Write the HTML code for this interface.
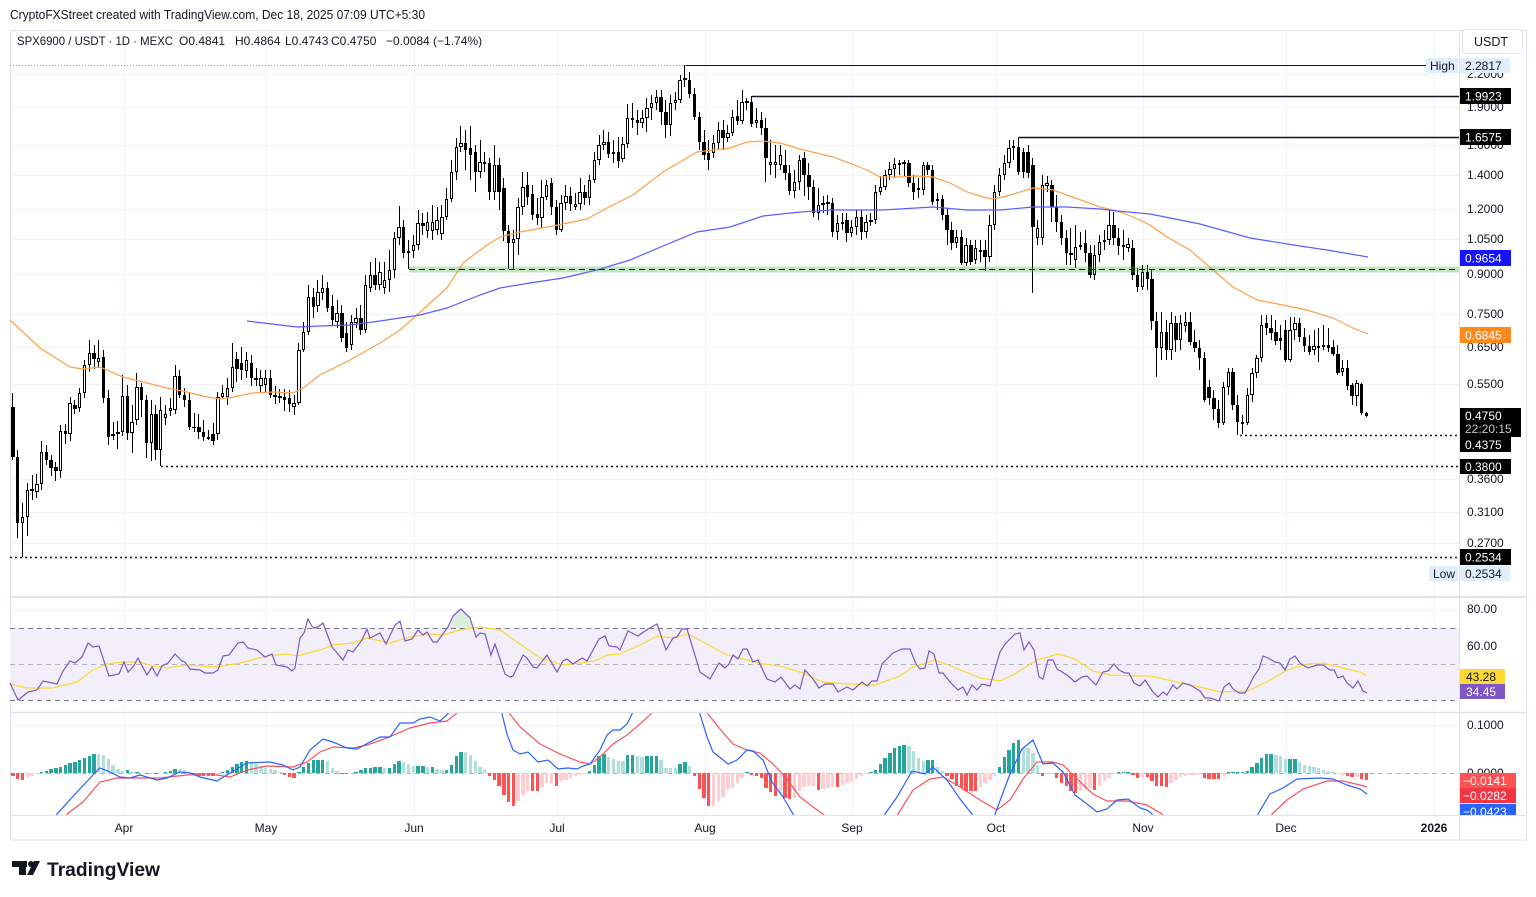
<!DOCTYPE html>
<html><head><meta charset="utf-8">
<style>
html,body{margin:0;padding:0;background:#fff}
body{width:1536px;height:897px;position:relative;overflow:hidden;font-family:"Liberation Sans",Arial,sans-serif}
svg{position:absolute;left:0;top:0}
#cd,#hg{position:absolute;left:10.615px;top:0;display:flex;height:10px}
#cd i,#hg i{position:relative;width:4.77px;flex:none;display:block;height:10px}
#cd i::before{content:"";position:absolute;left:1.885px;width:1px;top:calc(var(--h)*1px);height:calc((var(--l) - var(--h))*1px);background:#000}
#cd i::after{content:"";position:absolute;left:0.7px;width:3.4px;box-sizing:border-box;top:calc(var(--t)*1px);height:max(1px,calc((var(--b) - var(--t))*1px));background:#000}
#cd i.w::after{background:#fff;border:1px solid #000;height:max(2px,calc((var(--b) - var(--t))*1px))}
#hg i::after{content:"";position:absolute;left:0.7px;width:3.4px;top:calc((773 - max(var(--v),0))*1px);height:calc(max(var(--v),-1*var(--v))*1px)}
#hg i.g::after{background:#26a69a}
#hg i.G::after{background:#b2dfdb}
#hg i.r::after{background:#ff5252}
#hg i.R::after{background:#ffcdd2}
</style></head><body>

<svg width="1536" height="897" viewBox="0 0 1536 897">
<!-- frame -->
<rect x="10.5" y="30.5" width="1516" height="809.5" fill="#fff" stroke="#e0e3eb"/>
<!-- main grid -->
<g stroke="#f0f3fa" stroke-width="1">
<line x1="10" x2="1459" y1="74.5" y2="74.5"/><line x1="10" x2="1459" y1="107.5" y2="107.5"/><line x1="10" x2="1459" y1="145.5" y2="145.5"/><line x1="10" x2="1459" y1="175.5" y2="175.5"/><line x1="10" x2="1459" y1="209.5" y2="209.5"/><line x1="10" x2="1459" y1="239.5" y2="239.5"/><line x1="10" x2="1459" y1="274.5" y2="274.5"/><line x1="10" x2="1459" y1="314.5" y2="314.5"/><line x1="10" x2="1459" y1="347.5" y2="347.5"/><line x1="10" x2="1459" y1="384.5" y2="384.5"/><line x1="10" x2="1459" y1="479.5" y2="479.5"/><line x1="10" x2="1459" y1="512.5" y2="512.5"/><line x1="10" x2="1459" y1="543.5" y2="543.5"/>
<line x1="10" x2="1459" y1="610.5" y2="610.5"/><line x1="10" x2="1459" y1="646.5" y2="646.5"/><line x1="10" x2="1459" y1="682.5" y2="682.5"/>
<line x1="10" x2="1459" y1="725.5" y2="725.5"/>
</g>
<g stroke="#f0f3fa" stroke-width="1">
<line x1="124.5" x2="124.5" y1="31" y2="815"/><line x1="266.5" x2="266.5" y1="31" y2="815"/><line x1="414.5" x2="414.5" y1="31" y2="815"/><line x1="557.5" x2="557.5" y1="31" y2="815"/><line x1="705.5" x2="705.5" y1="31" y2="815"/><line x1="852.5" x2="852.5" y1="31" y2="815"/><line x1="996.5" x2="996.5" y1="31" y2="815"/><line x1="1143.5" x2="1143.5" y1="31" y2="815"/><line x1="1286.5" x2="1286.5" y1="31" y2="815"/><line x1="1434.5" x2="1434.5" y1="31" y2="815"/>
</g>
<!-- RSI background -->
<rect x="10" y="628" width="1449" height="72" fill="#f2effa"/>
<line x1="10" x2="1459" y1="628.5" y2="628.5" stroke="#787b86" stroke-dasharray="5 4"/>
<line x1="10" x2="1459" y1="664.5" y2="664.5" stroke="#b2b5be" stroke-dasharray="5 4"/>
<line x1="10" x2="1459" y1="700.5" y2="700.5" stroke="#787b86" stroke-dasharray="5 4"/>
<line x1="10" x2="1459" y1="773.5" y2="773.5" stroke="#b2b5be" stroke-dasharray="5 4"/>
</svg>

<div id="hg">
<i class="r" style="--v:-3"></i><i class="r" style="--v:-6"></i><i class="r" style="--v:-7"></i><i class="R" style="--v:-5"></i><i class="R" style="--v:-3"></i><i class="R" style="--v:-1"></i><i class="g" style="--v:1"></i><i class="g" style="--v:2"></i><i class="g" style="--v:4"></i><i class="g" style="--v:5"></i>
<i class="g" style="--v:6"></i><i class="g" style="--v:8"></i><i class="g" style="--v:10"></i><i class="g" style="--v:11"></i><i class="g" style="--v:13"></i><i class="g" style="--v:15"></i><i class="g" style="--v:17"></i><i class="g" style="--v:19"></i><i class="G" style="--v:19"></i><i class="G" style="--v:18"></i>
<i class="G" style="--v:14"></i><i class="G" style="--v:8"></i><i class="G" style="--v:4"></i><i class="G" style="--v:2"></i><i class="g" style="--v:3"></i><i class="G" style="--v:1"></i><i class="g" style="--v:1"></i><i class="G" style="--v:0"></i><i class="r" style="--v:-1"></i><i class="R" style="--v:-1"></i>
<i class="r" style="--v:-1"></i><i class="R" style="--v:-1"></i><i class="g" style="--v:1"></i><i class="g" style="--v:2"></i><i class="g" style="--v:4"></i><i class="G" style="--v:4"></i><i class="G" style="--v:3"></i><i class="G" style="--v:1"></i><i class="r" style="--v:-1"></i><i class="r" style="--v:-3"></i>
<i class="r" style="--v:-3"></i><i class="r" style="--v:-3"></i><i class="r" style="--v:-3"></i><i class="R" style="--v:-2"></i><i class="g" style="--v:1"></i><i class="g" style="--v:3"></i><i class="g" style="--v:6"></i><i class="g" style="--v:9"></i><i class="g" style="--v:11"></i><i class="g" style="--v:12"></i>
<i class="G" style="--v:11"></i><i class="G" style="--v:9"></i><i class="G" style="--v:7"></i><i class="G" style="--v:5"></i><i class="G" style="--v:4"></i><i class="G" style="--v:3"></i><i class="G" style="--v:1"></i><i class="r" style="--v:-2"></i><i class="r" style="--v:-4"></i><i class="r" style="--v:-5"></i>
<i class="g" style="--v:1"></i><i class="g" style="--v:6"></i><i class="g" style="--v:10"></i><i class="g" style="--v:13"></i><i class="g" style="--v:13"></i><i class="g" style="--v:13"></i><i class="G" style="--v:12"></i><i class="G" style="--v:5"></i><i class="G" style="--v:2"></i><i class="r" style="--v:-1"></i>
<i class="r" style="--v:-1"></i><i class="R" style="--v:-1"></i><i class="g" style="--v:1"></i><i class="g" style="--v:3"></i><i class="g" style="--v:5"></i><i class="g" style="--v:5"></i><i class="g" style="--v:6"></i><i class="g" style="--v:6"></i><i class="G" style="--v:5"></i><i class="g" style="--v:5"></i>
<i class="g" style="--v:9"></i><i class="g" style="--v:12"></i><i class="G" style="--v:11"></i><i class="G" style="--v:9"></i><i class="G" style="--v:7"></i><i class="g" style="--v:7"></i><i class="g" style="--v:7"></i><i class="G" style="--v:6"></i><i class="g" style="--v:6"></i><i class="G" style="--v:4"></i>
<i class="G" style="--v:3"></i><i class="g" style="--v:3"></i><i class="g" style="--v:8"></i><i class="g" style="--v:17"></i><i class="g" style="--v:21"></i><i class="G" style="--v:21"></i><i class="G" style="--v:18"></i><i class="G" style="--v:12"></i><i class="G" style="--v:6"></i><i class="G" style="--v:3"></i>
<i class="r" style="--v:-3"></i><i class="r" style="--v:-7"></i><i class="r" style="--v:-13"></i><i class="r" style="--v:-22"></i><i class="r" style="--v:-29"></i><i class="r" style="--v:-33"></i><i class="R" style="--v:-28"></i><i class="R" style="--v:-22"></i><i class="R" style="--v:-18"></i><i class="r" style="--v:-18"></i>
<i class="r" style="--v:-18"></i><i class="R" style="--v:-14"></i><i class="R" style="--v:-10"></i><i class="R" style="--v:-10"></i><i class="r" style="--v:-13"></i><i class="R" style="--v:-8"></i><i class="R" style="--v:-7"></i><i class="R" style="--v:-5"></i><i class="R" style="--v:-3"></i><i class="R" style="--v:-2"></i>
<i class="R" style="--v:-1"></i><i class="g" style="--v:2"></i><i class="g" style="--v:8"></i><i class="g" style="--v:17"></i><i class="g" style="--v:19"></i><i class="G" style="--v:16"></i><i class="G" style="--v:14"></i><i class="G" style="--v:12"></i><i class="G" style="--v:12"></i><i class="g" style="--v:18"></i>
<i class="g" style="--v:18"></i><i class="G" style="--v:17"></i><i class="G" style="--v:16"></i><i class="g" style="--v:17"></i><i class="g" style="--v:17"></i><i class="g" style="--v:17"></i><i class="G" style="--v:13"></i><i class="G" style="--v:5"></i><i class="G" style="--v:5"></i><i class="G" style="--v:5"></i>
<i class="g" style="--v:9"></i><i class="g" style="--v:11"></i><i class="G" style="--v:7"></i><i class="r" style="--v:-3"></i><i class="r" style="--v:-16"></i><i class="r" style="--v:-25"></i><i class="r" style="--v:-33"></i><i class="R" style="--v:-33"></i><i class="R" style="--v:-28"></i><i class="R" style="--v:-24"></i>
<i class="R" style="--v:-16"></i><i class="R" style="--v:-15"></i><i class="R" style="--v:-10"></i><i class="R" style="--v:-5"></i><i class="g" style="--v:1"></i><i class="r" style="--v:-2"></i><i class="r" style="--v:-3"></i><i class="r" style="--v:-5"></i><i class="r" style="--v:-15"></i><i class="r" style="--v:-19"></i>
<i class="r" style="--v:-23"></i><i class="R" style="--v:-21"></i><i class="r" style="--v:-25"></i><i class="r" style="--v:-26"></i><i class="R" style="--v:-25"></i><i class="R" style="--v:-18"></i><i class="R" style="--v:-14"></i><i class="R" style="--v:-13"></i><i class="R" style="--v:-13"></i><i class="r" style="--v:-17"></i>
<i class="R" style="--v:-16"></i><i class="R" style="--v:-15"></i><i class="R" style="--v:-14"></i><i class="r" style="--v:-14"></i><i class="R" style="--v:-12"></i><i class="R" style="--v:-10"></i><i class="R" style="--v:-8"></i><i class="R" style="--v:-6"></i><i class="R" style="--v:-3"></i><i class="R" style="--v:-1"></i>
<i class="g" style="--v:1"></i><i class="g" style="--v:3"></i><i class="g" style="--v:9"></i><i class="g" style="--v:15"></i><i class="g" style="--v:20"></i><i class="g" style="--v:25"></i><i class="g" style="--v:27"></i><i class="g" style="--v:28"></i><i class="G" style="--v:27"></i><i class="G" style="--v:22"></i>
<i class="G" style="--v:15"></i><i class="G" style="--v:12"></i><i class="g" style="--v:13"></i><i class="g" style="--v:13"></i><i class="G" style="--v:6"></i><i class="G" style="--v:2"></i><i class="r" style="--v:-3"></i><i class="r" style="--v:-6"></i><i class="r" style="--v:-13"></i><i class="r" style="--v:-15"></i>
<i class="r" style="--v:-18"></i><i class="r" style="--v:-18"></i><i class="r" style="--v:-18"></i><i class="R" style="--v:-14"></i><i class="R" style="--v:-10"></i><i class="R" style="--v:-7"></i><i class="R" style="--v:-3"></i><i class="g" style="--v:6"></i><i class="g" style="--v:16"></i><i class="g" style="--v:23"></i>
<i class="g" style="--v:30"></i><i class="g" style="--v:33"></i><i class="G" style="--v:25"></i><i class="G" style="--v:25"></i><i class="G" style="--v:20"></i><i class="G" style="--v:8"></i><i class="r" style="--v:-3"></i><i class="R" style="--v:-1"></i><i class="R" style="--v:-1"></i><i class="r" style="--v:-5"></i>
<i class="r" style="--v:-10"></i><i class="r" style="--v:-13"></i><i class="r" style="--v:-18"></i><i class="r" style="--v:-20"></i><i class="R" style="--v:-18"></i><i class="R" style="--v:-17"></i><i class="R" style="--v:-15"></i><i class="r" style="--v:-17"></i><i class="R" style="--v:-12"></i><i class="R" style="--v:-8"></i>
<i class="R" style="--v:-5"></i><i class="R" style="--v:-1"></i><i class="g" style="--v:1"></i><i class="g" style="--v:1"></i><i class="g" style="--v:1"></i><i class="r" style="--v:-2"></i><i class="r" style="--v:-5"></i><i class="R" style="--v:-4"></i><i class="r" style="--v:-4"></i><i class="r" style="--v:-8"></i>
<i class="r" style="--v:-13"></i><i class="r" style="--v:-13"></i><i class="r" style="--v:-14"></i><i class="R" style="--v:-10"></i><i class="R" style="--v:-7"></i><i class="R" style="--v:-4"></i><i class="R" style="--v:-3"></i><i class="R" style="--v:-2"></i><i class="R" style="--v:-2"></i><i class="R" style="--v:-2"></i>
<i class="r" style="--v:-5"></i><i class="r" style="--v:-6"></i><i class="r" style="--v:-6"></i><i class="r" style="--v:-6"></i><i class="R" style="--v:-3"></i><i class="g" style="--v:1"></i><i class="g" style="--v:1"></i><i class="g" style="--v:1"></i><i class="g" style="--v:1"></i><i class="g" style="--v:2"></i>
<i class="g" style="--v:6"></i><i class="g" style="--v:10"></i><i class="g" style="--v:15"></i><i class="g" style="--v:19"></i><i class="g" style="--v:19"></i><i class="G" style="--v:18"></i><i class="G" style="--v:17"></i><i class="G" style="--v:14"></i><i class="g" style="--v:14"></i><i class="g" style="--v:14"></i>
<i class="G" style="--v:11"></i><i class="G" style="--v:8"></i><i class="G" style="--v:7"></i><i class="G" style="--v:6"></i><i class="G" style="--v:5"></i><i class="G" style="--v:3"></i><i class="G" style="--v:2"></i><i class="G" style="--v:1"></i><i class="R" style="--v:-1"></i><i class="R" style="--v:-2"></i>
<i class="r" style="--v:-3"></i><i class="r" style="--v:-4"></i><i class="R" style="--v:-4"></i><i class="r" style="--v:-6"></i><i class="r" style="--v:-7"></i>
</div>

<div id="cd">
<i class="k" style="--h:393;--l:460;--t:407;--b:457"></i><i class="k" style="--h:450;--l:538;--t:457;--b:523"></i><i class="w" style="--h:503;--l:557;--t:517;--b:523"></i><i class="w" style="--h:483;--l:536;--t:490;--b:517"></i><i class="w" style="--h:475;--l:500;--t:489;--b:491"></i><i class="w" style="--h:474;--l:498;--t:484;--b:492"></i><i class="w" style="--h:441;--l:490;--t:452;--b:484"></i><i class="k" style="--h:445;--l:465;--t:452;--b:460"></i><i class="k" style="--h:455;--l:476;--t:460;--b:468"></i><i class="k" style="--h:462;--l:481;--t:467;--b:471"></i>
<i class="w" style="--h:425;--l:478;--t:431;--b:471"></i><i class="k" style="--h:424;--l:444;--t:431;--b:434"></i><i class="w" style="--h:397;--l:441;--t:403;--b:434"></i><i class="k" style="--h:400;--l:414;--t:405;--b:409"></i><i class="w" style="--h:388;--l:412;--t:393;--b:408"></i><i class="w" style="--h:360;--l:398;--t:365;--b:393"></i><i class="w" style="--h:340;--l:372;--t:353;--b:365"></i><i class="k" style="--h:345;--l:369;--t:353;--b:359"></i><i class="w" style="--h:340;--l:368;--t:358;--b:362"></i><i class="k" style="--h:350;--l:403;--t:357;--b:398"></i>
<i class="k" style="--h:390;--l:445;--t:398;--b:437"></i><i class="w" style="--h:422;--l:440;--t:434;--b:436"></i><i class="w" style="--h:421;--l:449;--t:432;--b:434"></i><i class="w" style="--h:375;--l:436;--t:396;--b:432"></i><i class="k" style="--h:385;--l:440;--t:396;--b:433"></i><i class="w" style="--h:405;--l:453;--t:422;--b:433"></i><i class="w" style="--h:373;--l:425;--t:387;--b:420"></i><i class="k" style="--h:383;--l:417;--t:387;--b:400"></i><i class="k" style="--h:395;--l:458;--t:400;--b:443"></i><i class="w" style="--h:400;--l:461;--t:414;--b:443"></i>
<i class="k" style="--h:405;--l:460;--t:414;--b:450"></i><i class="w" style="--h:397;--l:466;--t:410;--b:450"></i><i class="w" style="--h:405;--l:425;--t:414;--b:418"></i><i class="w" style="--h:398;--l:416;--t:408;--b:411"></i><i class="w" style="--h:365;--l:414;--t:376;--b:410"></i><i class="k" style="--h:370;--l:398;--t:376;--b:395"></i><i class="k" style="--h:388;--l:407;--t:395;--b:400"></i><i class="k" style="--h:393;--l:430;--t:400;--b:427"></i><i class="k" style="--h:413;--l:432;--t:427;--b:428"></i><i class="k" style="--h:414;--l:439;--t:427;--b:432"></i>
<i class="k" style="--h:420;--l:441;--t:432;--b:437"></i><i class="w" style="--h:430;--l:440;--t:437;--b:438"></i><i class="k" style="--h:423;--l:445;--t:434;--b:441"></i><i class="w" style="--h:392;--l:440;--t:397;--b:434"></i><i class="w" style="--h:385;--l:399;--t:393;--b:397"></i><i class="w" style="--h:378;--l:405;--t:388;--b:397"></i><i class="w" style="--h:343;--l:392;--t:367;--b:388"></i><i class="k" style="--h:352;--l:382;--t:359;--b:369"></i><i class="k" style="--h:347;--l:380;--t:363;--b:370"></i><i class="w" style="--h:352;--l:378;--t:360;--b:371"></i>
<i class="k" style="--h:355;--l:386;--t:363;--b:378"></i><i class="k" style="--h:368;--l:386;--t:378;--b:380"></i><i class="w" style="--h:370;--l:392;--t:378;--b:386"></i><i class="w" style="--h:370;--l:392;--t:378;--b:385"></i><i class="k" style="--h:370;--l:398;--t:378;--b:395"></i><i class="k" style="--h:386;--l:404;--t:395;--b:397"></i><i class="k" style="--h:389;--l:403;--t:396;--b:398"></i><i class="k" style="--h:389;--l:411;--t:397;--b:400"></i><i class="k" style="--h:390;--l:412;--t:398;--b:404"></i><i class="w" style="--h:395;--l:415;--t:403;--b:407"></i>
<i class="w" style="--h:343;--l:405;--t:350;--b:403"></i><i class="w" style="--h:322;--l:352;--t:332;--b:350"></i><i class="w" style="--h:285;--l:335;--t:297;--b:332"></i><i class="k" style="--h:288;--l:318;--t:297;--b:307"></i><i class="w" style="--h:280;--l:312;--t:292;--b:306"></i><i class="w" style="--h:275;--l:300;--t:288;--b:293"></i><i class="k" style="--h:282;--l:312;--t:288;--b:308"></i><i class="k" style="--h:295;--l:325;--t:306;--b:320"></i><i class="w" style="--h:300;--l:328;--t:313;--b:322"></i><i class="k" style="--h:305;--l:342;--t:313;--b:338"></i>
<i class="k" style="--h:322;--l:352;--t:333;--b:348"></i><i class="w" style="--h:315;--l:350;--t:322;--b:345"></i><i class="w" style="--h:308;--l:328;--t:318;--b:323"></i><i class="k" style="--h:305;--l:335;--t:318;--b:330"></i><i class="w" style="--h:275;--l:333;--t:285;--b:330"></i><i class="w" style="--h:262;--l:292;--t:275;--b:288"></i><i class="k" style="--h:258;--l:290;--t:275;--b:285"></i><i class="w" style="--h:262;--l:290;--t:272;--b:285"></i><i class="w" style="--h:262;--l:294;--t:280;--b:288"></i><i class="w" style="--h:250;--l:292;--t:270;--b:280"></i>
<i class="w" style="--h:232;--l:278;--t:238;--b:270"></i><i class="w" style="--h:206;--l:245;--t:227;--b:238"></i><i class="k" style="--h:220;--l:258;--t:227;--b:253"></i><i class="w" style="--h:240;--l:269;--t:251;--b:253"></i><i class="w" style="--h:235;--l:258;--t:245;--b:251"></i><i class="w" style="--h:210;--l:250;--t:223;--b:245"></i><i class="k" style="--h:213;--l:235;--t:223;--b:226"></i><i class="w" style="--h:212;--l:238;--t:222;--b:231"></i><i class="w" style="--h:205;--l:240;--t:222;--b:231"></i><i class="w" style="--h:207;--l:235;--t:220;--b:230"></i>
<i class="w" style="--h:205;--l:240;--t:217;--b:234"></i><i class="w" style="--h:188;--l:220;--t:199;--b:217"></i><i class="w" style="--h:160;--l:202;--t:172;--b:199"></i><i class="w" style="--h:138;--l:180;--t:147;--b:172"></i><i class="w" style="--h:126;--l:152;--t:143;--b:147"></i><i class="k" style="--h:130;--l:170;--t:143;--b:150"></i><i class="k" style="--h:126;--l:180;--t:148;--b:155"></i><i class="k" style="--h:145;--l:192;--t:152;--b:172"></i><i class="w" style="--h:140;--l:178;--t:162;--b:172"></i><i class="k" style="--h:152;--l:172;--t:162;--b:164"></i>
<i class="k" style="--h:158;--l:200;--t:163;--b:192"></i><i class="w" style="--h:145;--l:200;--t:165;--b:192"></i><i class="k" style="--h:158;--l:210;--t:165;--b:192"></i><i class="k" style="--h:178;--l:241;--t:188;--b:231"></i><i class="k" style="--h:225;--l:269;--t:231;--b:243"></i><i class="w" style="--h:230;--l:269;--t:239;--b:243"></i><i class="w" style="--h:198;--l:255;--t:207;--b:239"></i><i class="w" style="--h:172;--l:215;--t:187;--b:207"></i><i class="k" style="--h:172;--l:205;--t:185;--b:197"></i><i class="k" style="--h:185;--l:220;--t:194;--b:215"></i>
<i class="k" style="--h:198;--l:225;--t:214;--b:218"></i><i class="w" style="--h:180;--l:228;--t:197;--b:218"></i><i class="w" style="--h:180;--l:200;--t:185;--b:197"></i><i class="k" style="--h:178;--l:215;--t:183;--b:207"></i><i class="k" style="--h:200;--l:235;--t:207;--b:230"></i><i class="w" style="--h:195;--l:232;--t:203;--b:230"></i><i class="w" style="--h:185;--l:210;--t:196;--b:203"></i><i class="k" style="--h:187;--l:211;--t:196;--b:204"></i><i class="w" style="--h:193;--l:210;--t:204;--b:207"></i><i class="w" style="--h:178;--l:210;--t:192;--b:204"></i>
<i class="k" style="--h:185;--l:205;--t:192;--b:198"></i><i class="w" style="--h:175;--l:205;--t:180;--b:198"></i><i class="w" style="--h:152;--l:183;--t:160;--b:180"></i><i class="w" style="--h:135;--l:165;--t:145;--b:160"></i><i class="w" style="--h:130;--l:150;--t:142;--b:145"></i><i class="k" style="--h:132;--l:158;--t:142;--b:154"></i><i class="w" style="--h:140;--l:163;--t:152;--b:154"></i><i class="k" style="--h:137;--l:168;--t:152;--b:161"></i><i class="w" style="--h:137;--l:162;--t:144;--b:159"></i><i class="w" style="--h:104;--l:148;--t:118;--b:144"></i>
<i class="k" style="--h:103;--l:128;--t:118;--b:120"></i><i class="k" style="--h:110;--l:135;--t:120;--b:123"></i><i class="w" style="--h:110;--l:128;--t:118;--b:123"></i><i class="w" style="--h:98;--l:132;--t:108;--b:118"></i><i class="w" style="--h:95;--l:120;--t:103;--b:108"></i><i class="w" style="--h:90;--l:110;--t:97;--b:103"></i><i class="k" style="--h:90;--l:125;--t:97;--b:112"></i><i class="k" style="--h:100;--l:138;--t:112;--b:125"></i><i class="w" style="--h:95;--l:136;--t:103;--b:125"></i><i class="w" style="--h:92;--l:110;--t:100;--b:103"></i>
<i class="w" style="--h:75;--l:103;--t:80;--b:100"></i><i class="w" style="--h:65;--l:87;--t:78;--b:80"></i><i class="k" style="--h:72;--l:98;--t:80;--b:94"></i><i class="k" style="--h:88;--l:120;--t:94;--b:117"></i><i class="k" style="--h:112;--l:150;--t:117;--b:142"></i><i class="k" style="--h:130;--l:160;--t:142;--b:155"></i><i class="k" style="--h:140;--l:170;--t:153;--b:160"></i><i class="w" style="--h:135;--l:158;--t:143;--b:153"></i><i class="w" style="--h:122;--l:150;--t:130;--b:143"></i><i class="k" style="--h:120;--l:150;--t:130;--b:138"></i>
<i class="w" style="--h:125;--l:142;--t:133;--b:138"></i><i class="w" style="--h:110;--l:136;--t:117;--b:133"></i><i class="k" style="--h:100;--l:125;--t:116;--b:121"></i><i class="w" style="--h:90;--l:124;--t:102;--b:121"></i><i class="w" style="--h:98;--l:110;--t:101;--b:103"></i><i class="k" style="--h:96;--l:127;--t:102;--b:124"></i><i class="w" style="--h:108;--l:128;--t:120;--b:123"></i><i class="k" style="--h:112;--l:135;--t:120;--b:128"></i><i class="k" style="--h:118;--l:182;--t:128;--b:158"></i><i class="w" style="--h:140;--l:175;--t:162;--b:165"></i>
<i class="w" style="--h:145;--l:178;--t:162;--b:165"></i><i class="w" style="--h:145;--l:170;--t:155;--b:165"></i><i class="k" style="--h:150;--l:180;--t:165;--b:173"></i><i class="k" style="--h:165;--l:195;--t:173;--b:191"></i><i class="w" style="--h:170;--l:198;--t:182;--b:191"></i><i class="w" style="--h:155;--l:190;--t:160;--b:182"></i><i class="k" style="--h:152;--l:196;--t:158;--b:175"></i><i class="k" style="--h:163;--l:200;--t:175;--b:187"></i><i class="k" style="--h:180;--l:217;--t:187;--b:213"></i><i class="w" style="--h:188;--l:220;--t:205;--b:213"></i>
<i class="w" style="--h:196;--l:213;--t:203;--b:205"></i><i class="w" style="--h:195;--l:215;--t:202;--b:204"></i><i class="k" style="--h:198;--l:237;--t:203;--b:232"></i><i class="w" style="--h:215;--l:240;--t:223;--b:232"></i><i class="w" style="--h:213;--l:230;--t:222;--b:224"></i><i class="k" style="--h:213;--l:242;--t:220;--b:233"></i><i class="w" style="--h:220;--l:237;--t:227;--b:233"></i><i class="w" style="--h:210;--l:235;--t:217;--b:227"></i><i class="k" style="--h:210;--l:240;--t:217;--b:232"></i><i class="w" style="--h:215;--l:238;--t:222;--b:232"></i>
<i class="w" style="--h:213;--l:226;--t:220;--b:222"></i><i class="w" style="--h:185;--l:224;--t:192;--b:220"></i><i class="w" style="--h:176;--l:195;--t:187;--b:192"></i><i class="w" style="--h:170;--l:190;--t:175;--b:187"></i><i class="w" style="--h:162;--l:180;--t:169;--b:175"></i><i class="w" style="--h:158;--l:178;--t:164;--b:169"></i><i class="w" style="--h:160;--l:175;--t:163;--b:165"></i><i class="w" style="--h:160;--l:176;--t:162;--b:164"></i><i class="k" style="--h:160;--l:187;--t:163;--b:183"></i><i class="k" style="--h:175;--l:200;--t:183;--b:192"></i>
<i class="w" style="--h:178;--l:198;--t:188;--b:190"></i><i class="w" style="--h:162;--l:195;--t:165;--b:190"></i><i class="k" style="--h:162;--l:175;--t:165;--b:170"></i><i class="k" style="--h:165;--l:205;--t:170;--b:202"></i><i class="w" style="--h:193;--l:210;--t:199;--b:201"></i><i class="k" style="--h:195;--l:220;--t:199;--b:215"></i><i class="k" style="--h:208;--l:245;--t:215;--b:230"></i><i class="k" style="--h:222;--l:250;--t:230;--b:243"></i><i class="w" style="--h:230;--l:248;--t:237;--b:243"></i><i class="k" style="--h:230;--l:265;--t:237;--b:263"></i>
<i class="w" style="--h:238;--l:266;--t:245;--b:263"></i><i class="k" style="--h:240;--l:265;--t:245;--b:262"></i><i class="w" style="--h:240;--l:264;--t:248;--b:260"></i><i class="w" style="--h:240;--l:262;--t:250;--b:252"></i><i class="k" style="--h:240;--l:271;--t:250;--b:257"></i><i class="w" style="--h:215;--l:262;--t:225;--b:257"></i><i class="w" style="--h:185;--l:230;--t:192;--b:225"></i><i class="w" style="--h:168;--l:196;--t:175;--b:192"></i><i class="w" style="--h:155;--l:180;--t:163;--b:175"></i><i class="w" style="--h:140;--l:168;--t:148;--b:163"></i>
<i class="w" style="--h:140;--l:160;--t:146;--b:148"></i><i class="k" style="--h:137;--l:175;--t:147;--b:172"></i><i class="k" style="--h:148;--l:178;--t:152;--b:172"></i><i class="k" style="--h:145;--l:178;--t:152;--b:173"></i><i class="k" style="--h:158;--l:293;--t:165;--b:227"></i><i class="w" style="--h:220;--l:245;--t:228;--b:238"></i><i class="w" style="--h:175;--l:245;--t:185;--b:238"></i><i class="w" style="--h:176;--l:192;--t:183;--b:186"></i><i class="k" style="--h:180;--l:222;--t:185;--b:207"></i><i class="k" style="--h:195;--l:232;--t:207;--b:222"></i>
<i class="k" style="--h:215;--l:245;--t:222;--b:238"></i><i class="k" style="--h:230;--l:265;--t:238;--b:253"></i><i class="w" style="--h:228;--l:265;--t:253;--b:255"></i><i class="w" style="--h:225;--l:268;--t:247;--b:260"></i><i class="w" style="--h:232;--l:250;--t:245;--b:247"></i><i class="k" style="--h:230;--l:262;--t:243;--b:253"></i><i class="k" style="--h:245;--l:278;--t:253;--b:275"></i><i class="w" style="--h:245;--l:280;--t:255;--b:275"></i><i class="w" style="--h:235;--l:262;--t:242;--b:255"></i><i class="w" style="--h:230;--l:250;--t:240;--b:242"></i>
<i class="w" style="--h:210;--l:245;--t:225;--b:240"></i><i class="k" style="--h:212;--l:245;--t:225;--b:238"></i><i class="k" style="--h:228;--l:255;--t:238;--b:246"></i><i class="w" style="--h:230;--l:260;--t:245;--b:247"></i><i class="w" style="--h:238;--l:252;--t:244;--b:248"></i><i class="k" style="--h:240;--l:280;--t:248;--b:275"></i><i class="k" style="--h:268;--l:292;--t:275;--b:287"></i><i class="w" style="--h:265;--l:290;--t:272;--b:287"></i><i class="k" style="--h:265;--l:290;--t:272;--b:279"></i><i class="k" style="--h:270;--l:330;--t:279;--b:321"></i>
<i class="k" style="--h:312;--l:377;--t:321;--b:348"></i><i class="w" style="--h:312;--l:360;--t:332;--b:348"></i><i class="k" style="--h:320;--l:360;--t:332;--b:350"></i><i class="w" style="--h:312;--l:360;--t:323;--b:350"></i><i class="k" style="--h:316;--l:352;--t:323;--b:340"></i><i class="w" style="--h:315;--l:350;--t:323;--b:340"></i><i class="w" style="--h:312;--l:332;--t:322;--b:326"></i><i class="k" style="--h:312;--l:345;--t:322;--b:342"></i><i class="k" style="--h:330;--l:352;--t:342;--b:348"></i><i class="k" style="--h:340;--l:370;--t:348;--b:358"></i>
<i class="k" style="--h:352;--l:402;--t:358;--b:400"></i><i class="k" style="--h:380;--l:405;--t:387;--b:398"></i><i class="k" style="--h:390;--l:420;--t:398;--b:409"></i><i class="k" style="--h:400;--l:428;--t:409;--b:423"></i><i class="w" style="--h:382;--l:425;--t:387;--b:423"></i><i class="w" style="--h:368;--l:395;--t:372;--b:387"></i><i class="k" style="--h:368;--l:410;--t:372;--b:405"></i><i class="k" style="--h:395;--l:435;--t:405;--b:422"></i><i class="w" style="--h:415;--l:434;--t:422;--b:424"></i><i class="w" style="--h:388;--l:425;--t:395;--b:423"></i>
<i class="w" style="--h:368;--l:402;--t:373;--b:395"></i><i class="w" style="--h:355;--l:378;--t:358;--b:373"></i><i class="w" style="--h:315;--l:362;--t:325;--b:358"></i><i class="k" style="--h:315;--l:335;--t:323;--b:328"></i><i class="k" style="--h:315;--l:340;--t:328;--b:333"></i><i class="k" style="--h:320;--l:345;--t:332;--b:341"></i><i class="k" style="--h:325;--l:350;--t:338;--b:341"></i><i class="k" style="--h:320;--l:362;--t:330;--b:360"></i><i class="w" style="--h:317;--l:362;--t:330;--b:360"></i><i class="w" style="--h:317;--l:340;--t:323;--b:330"></i>
<i class="k" style="--h:318;--l:342;--t:323;--b:337"></i><i class="k" style="--h:328;--l:352;--t:337;--b:346"></i><i class="k" style="--h:335;--l:355;--t:346;--b:352"></i><i class="w" style="--h:330;--l:355;--t:346;--b:350"></i><i class="w" style="--h:328;--l:362;--t:346;--b:348"></i><i class="w" style="--h:325;--l:350;--t:345;--b:347"></i><i class="k" style="--h:328;--l:352;--t:345;--b:348"></i><i class="k" style="--h:340;--l:356;--t:347;--b:354"></i><i class="k" style="--h:345;--l:375;--t:354;--b:373"></i><i class="w" style="--h:360;--l:376;--t:368;--b:372"></i>
<i class="k" style="--h:360;--l:390;--t:368;--b:386"></i><i class="k" style="--h:383;--l:405;--t:385;--b:396"></i><i class="w" style="--h:380;--l:406;--t:383;--b:396"></i><i class="k" style="--h:383;--l:415;--t:384;--b:413"></i><i class="k" style="--h:412;--l:417;--t:413;--b:416"></i>
</div>

<svg width="1536" height="897" viewBox="0 0 1536 897" font-family="Liberation Sans, Arial, sans-serif">
<defs>
<clipPath id="mc"><rect x="10" y="713" width="1449" height="102"/></clipPath>
<clipPath id="ax"><rect x="1460" y="713" width="66" height="102"/></clipPath>
</defs>
<!-- moving averages -->
<polyline fill="none" stroke="#ffa04a" stroke-width="1.2" points="10,320 40,348 70,367 83,369 100,367 123,377 143,382 167,388 187,392 207,397 220,399 233,397 253,393 273,392 293,393 303,388 320,375 350,360 380,343 400,330 417,315 447,288 463,263 487,245 500,237 520,232 553,226 587,219 607,208 633,195 663,172 680,162 697,152 713,150 730,148 747,142 763,141 780,143 800,149 833,157 867,170 880,177 900,177 917,176 933,177 950,183 967,192 983,197 993,199 1007,196 1033,188 1053,190 1067,195 1100,207 1117,211 1133,217 1150,225 1167,237 1190,250 1213,270 1233,287 1257,300 1283,305 1307,310 1333,318 1353,328 1368,334"/>
<polyline fill="none" stroke="#5c5cff" stroke-width="1.2" points="247,321 297,327 320,326 350,325 380,321 400,318 420,315 447,308 480,295 500,288 530,283 563,278 597,270 630,260 663,246 697,232 730,227 763,216 800,212 833,210 883,210 933,207 967,210 1000,210 1033,207 1067,207 1100,209 1117,211 1150,214 1200,224 1250,238 1300,246 1327,250 1368,257"/>
<!-- horizontal levels -->
<line x1="10" x2="686" y1="65.5" y2="65.5" stroke="#9598a1" stroke-dasharray="1 2"/>
<line x1="686" x2="1426" y1="65.5" y2="65.5" stroke="#131722" stroke-width="1"/>
<line x1="752" x2="1459" y1="96.5" y2="96.5" stroke="#131722" stroke-width="1.5"/>
<line x1="1019" x2="1459" y1="137.5" y2="137.5" stroke="#131722" stroke-width="1.5"/>
<rect x="409" y="266.5" width="1050" height="6" fill="#4caf50" fill-opacity="0.35"/>
<line x1="409" x2="1459" y1="269.5" y2="269.5" stroke="#131722" stroke-dasharray="6 4"/>
<line x1="1240" x2="1459" y1="435.5" y2="435.5" stroke="#131722" stroke-width="1.5" stroke-dasharray="2 3"/>
<line x1="161" x2="1459" y1="466.5" y2="466.5" stroke="#131722" stroke-width="1.5" stroke-dasharray="2 3"/>
<line x1="10" x2="1459" y1="557.5" y2="557.5" stroke="#131722" stroke-width="1.5" stroke-dasharray="2 3"/>
<!-- RSI -->
<polygon points="449,628 453,616 461,609 470,618 473,628" fill="#4caf50" fill-opacity="0.2"/>
<polyline fill="none" stroke="#fdd835" stroke-width="1.2" points="10,684 27,688 53,688 77,682 93,670 107,664 123,662 140,662 153,666 167,668 187,665 217,667 240,663 267,656 287,654 297,656 320,650 333,645 353,643 367,638 390,643 410,637 430,634 443,635 460,630 480,627 500,630 520,644 540,658 563,665 580,663 595,661 607,655 620,654 640,645 657,636 673,638 688,634 707,644 727,655 743,659 763,664 780,666 803,673 823,682 847,684 875,685 900,676 913,667 935,660 953,667 980,678 1000,681 1013,675 1037,660 1058,654 1075,659 1093,671 1110,675 1133,676 1150,676 1177,682 1200,687 1220,692 1247,691 1267,682 1287,670 1307,664 1323,663 1343,668 1360,672 1367,676"/>
<polyline fill="none" stroke="#7e57c2" stroke-width="1.2" points="10,683 18,700 28,692 37,690 43,681 57,684 63,671 70,661 75,663 82,657 88,643 93,647 99,646 109,676 119,674 124,662 128,672 133,667 138,658 147,675 152,667 157,676 162,666 168,663 175,654 182,661 185,662 190,669 200,670 205,673 213,673 218,670 223,656 229,655 238,643 243,642 248,648 257,650 265,657 272,654 276,665 287,667 292,671 295,668 300,638 304,633 308,619 313,628 318,627 323,623 332,647 343,660 348,650 353,652 362,640 367,629 370,638 380,633 386,644 395,625 400,621 405,641 412,639 418,630 423,635 427,632 433,642 437,642 448,627 453,616 461,609 470,618 476,637 480,633 485,634 491,655 495,644 505,674 510,677 513,676 523,655 527,658 533,667 537,668 547,655 557,672 563,661 567,659 573,664 582,658 587,661 599,639 605,636 609,646 617,647 620,650 628,631 638,636 648,629 657,624 666,650 673,638 677,637 682,629 687,629 700,672 710,679 719,663 725,668 729,664 733,655 738,659 743,649 747,649 753,662 758,660 767,679 775,682 781,677 790,689 795,685 800,689 805,670 813,679 819,688 825,684 833,684 838,692 847,687 853,690 862,682 867,686 872,681 877,681 882,664 887,659 893,653 902,649 910,649 916,664 920,669 925,668 929,651 934,654 939,673 943,673 950,682 958,690 963,687 967,695 972,685 977,690 982,684 990,686 995,669 1000,652 1005,644 1010,639 1015,634 1020,633 1024,650 1029,642 1034,650 1039,677 1043,679 1048,660 1053,660 1057,669 1067,675 1075,682 1082,677 1087,676 1096,685 1103,672 1108,671 1114,664 1119,670 1125,673 1129,673 1134,683 1140,686 1145,680 1153,692 1158,697 1163,692 1167,695 1173,685 1177,689 1183,683 1190,685 1200,691 1205,698 1210,698 1219,701 1224,687 1229,683 1233,689 1239,693 1245,693 1250,684 1254,676 1259,669 1263,656 1268,658 1275,662 1280,663 1285,670 1290,659 1295,656 1300,663 1308,668 1317,665 1323,665 1330,670 1334,670 1338,678 1343,676 1347,683 1353,688 1358,681 1363,691 1367,693"/>
<!-- MACD lines -->
<g clip-path="url(#mc)" fill="none" stroke-width="1.2">
<polyline stroke="#f7525f" points="60,850 67,814 83,802 100,782 117,778 133,778 160,778 187,775 210,774 230,777 247,770 267,766 293,767 307,762 320,752 333,747 353,748 367,745 387,738 410,728 430,723 447,721 457,713 470,680 500,680 510,714 520,727 540,744 560,754 580,762 590,764 600,757 613,744 627,735 640,724 653,712 665,680 700,680 708,714 720,729 733,744 747,750 760,753 773,764 787,779 800,797 813,807 823,814 840,850 890,850 898,814 913,790 930,779 943,777 960,787 980,800 997,810 1010,800 1023,779 1037,762 1053,762 1063,765 1077,779 1093,794 1107,801 1127,801 1147,805 1162,814 1175,850 1265,850 1272,814 1287,800 1303,789 1327,781 1343,781 1360,785 1367,787"/>
<polyline stroke="#2962ff" points="50,830 57,814 77,792 93,775 100,768 110,772 120,777 130,778 140,775 157,780 167,778 180,772 190,773 200,777 217,781 230,773 247,763 270,762 283,765 293,770 300,767 310,750 323,739 333,742 347,748 357,749 370,742 380,737 390,737 400,723 413,723 420,719 430,717 440,721 450,712 465,680 490,680 502,714 507,734 513,750 520,754 528,752 538,762 548,760 558,769 568,768 577,769 583,766 590,764 600,750 607,735 613,730 620,730 627,724 633,712 645,680 690,680 700,714 707,737 713,752 722,759 728,764 737,760 747,750 753,751 763,760 772,782 783,797 793,814 805,850 875,850 885,814 897,797 912,771 925,774 933,767 947,780 960,799 972,814 982,850 988,850 995,814 1010,774 1022,749 1033,740 1043,764 1053,763 1063,772 1075,795 1087,804 1097,812 1107,809 1117,800 1128,799 1140,808 1147,810 1152,814 1160,850 1250,850 1258,814 1270,794 1283,788 1297,779 1320,778 1333,779 1347,785 1360,789 1367,794"/>
</g>
<!-- separators -->
<line x1="10" x2="1527" y1="597" y2="597" stroke="#e0e3eb" stroke-width="2"/>
<line x1="10" x2="1527" y1="712.5" y2="712.5" stroke="#e0e3eb" stroke-width="1.5"/>
<line x1="10" x2="1527" y1="815.5" y2="815.5" stroke="#e0e3eb" stroke-width="1"/>
<line x1="1459.5" x2="1459.5" y1="31" y2="840" stroke="#e0e3eb" stroke-width="1"/>
<rect x="1460" y="31" width="66" height="565" fill="none"/>

<!-- header texts -->
<text x="10" y="19" font-size="13" fill="#131722" textLength="415" lengthAdjust="spacingAndGlyphs">CryptoFXStreet created with TradingView.com, Dec 18, 2025 07:09 UTC+5:30</text>
<text x="17" y="45" font-size="12" fill="#131722" textLength="156" lengthAdjust="spacingAndGlyphs">SPX6900 / USDT · 1D · MEXC</text>
<text x="179" y="45" font-size="12" fill="#131722">O0.4841</text>
<text x="235" y="45" font-size="12" fill="#131722">H0.4864</text>
<text x="285" y="45" font-size="12" fill="#131722">L0.4743</text>
<text x="331" y="45" font-size="12" fill="#131722">C0.4750</text>
<text x="386" y="45" font-size="12" fill="#131722">−0.0084 (−1.74%)</text>

<!-- USDT button -->
<rect x="1462.5" y="29.5" width="60" height="24" rx="4" fill="#fff" stroke="#e0e3eb"/>
<text x="1474" y="46" font-size="12.5" fill="#131722">USDT</text>

<!-- price axis ticks -->
<g font-size="12" fill="#131722">
<text x="1467" y="78">2.2000</text><text x="1467" y="111">1.9000</text><text x="1467" y="149">1.6000</text><text x="1467" y="179">1.4000</text><text x="1467" y="213">1.2000</text><text x="1467" y="243">1.0500</text><text x="1467" y="278">0.9000</text><text x="1467" y="318">0.7500</text><text x="1467" y="351">0.6500</text><text x="1467" y="388">0.5500</text><text x="1467" y="483">0.3600</text><text x="1467" y="516">0.3100</text><text x="1467" y="547">0.2700</text>
<text x="1467" y="613">80.00</text><text x="1467" y="650">60.00</text>
<text x="1467" y="729">0.1000</text><text x="1467" y="777">0.0000</text>
</g>
<!-- price labels -->
<g font-size="12">
<rect x="1426" y="58" width="32" height="15" fill="#e3eefc"/><text x="1430" y="70" fill="#131722">High</text>
<rect x="1460" y="58" width="50" height="15" fill="#e3eefc"/><text x="1465" y="70" fill="#131722">2.2817</text>
<rect x="1460" y="88" width="51" height="16" fill="#000"/><text x="1465" y="100.5" fill="#fff">1.9923</text>
<rect x="1460" y="129" width="51" height="16" fill="#000"/><text x="1465" y="141.5" fill="#fff">1.6575</text>
<rect x="1460" y="250" width="51" height="16" fill="#1414ff"/><text x="1465" y="262.5" fill="#fff">0.9654</text>
<rect x="1460" y="327" width="51" height="16" fill="#ff8a1c"/><text x="1465" y="339.5" fill="#fff">0.6845</text>
<rect x="1460" y="408" width="61" height="29" fill="#000"/><text x="1465" y="420" fill="#fff">0.4750</text><text x="1465" y="433" fill="#c4c7cf">22:20:15</text>
<rect x="1460" y="437" width="51" height="15" fill="#000"/><text x="1465" y="449" fill="#fff">0.4375</text>
<rect x="1460" y="459" width="51" height="15" fill="#000"/><text x="1465" y="471" fill="#fff">0.3800</text>
<rect x="1460" y="549" width="51" height="16" fill="#000"/><text x="1465" y="561.5" fill="#fff">0.2534</text>
<rect x="1429" y="566" width="29" height="15" fill="#e3eefc"/><text x="1433" y="578" fill="#131722">Low</text>
<rect x="1460" y="566" width="50" height="15" fill="#e3eefc"/><text x="1465" y="578" fill="#131722">0.2534</text>
<rect x="1460" y="669" width="45" height="15" fill="#fdd835"/><text x="1466" y="681" fill="#131722">43.28</text>
<rect x="1460" y="684" width="45" height="15" fill="#7e57c2"/><text x="1466" y="696" fill="#fff">34.45</text>
<g clip-path="url(#ax)">
<rect x="1460" y="773" width="56" height="15" fill="#ff5252"/><text x="1463" y="785" fill="#fff">−0.0141</text>
<rect x="1460" y="788" width="56" height="15" fill="#f23645"/><text x="1463" y="800" fill="#fff">−0.0282</text>
<rect x="1460" y="804" width="56" height="15" fill="#2962ff"/><text x="1463" y="816" fill="#fff">−0.0423</text>
</g>
</g>

<!-- time axis -->
<g font-size="12" fill="#131722" text-anchor="middle">
<text x="124" y="832">Apr</text><text x="266" y="832">May</text><text x="414" y="832">Jun</text><text x="557" y="832">Jul</text><text x="705" y="832">Aug</text><text x="852" y="832">Sep</text><text x="996" y="832">Oct</text><text x="1143" y="832">Nov</text><text x="1286" y="832">Dec</text><text x="1434" y="832" font-weight="bold">2026</text>
</g>

<!-- TradingView logo -->
<g fill="#131722">
<rect x="12" y="861" width="15" height="6"/>
<rect x="19" y="861" width="7" height="14"/>
<circle cx="31" cy="864" r="3"/>
<polygon points="34,861 40,861 33,875 27,875"/>
</g>
<text x="47" y="876" font-size="19" font-weight="bold" fill="#131722" textLength="113" lengthAdjust="spacingAndGlyphs">TradingView</text>
</svg>
</body></html>
